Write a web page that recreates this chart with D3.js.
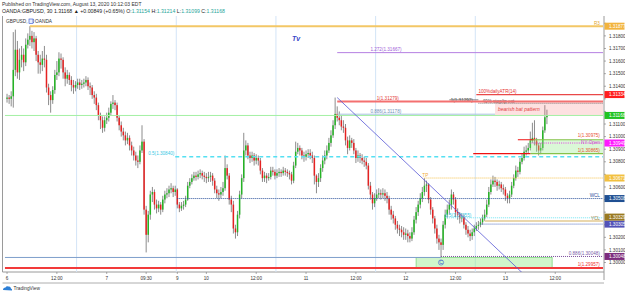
<!DOCTYPE html>
<html>
<head>
<meta charset="utf-8">
<script src="https://cdnjs.cloudflare.com/ajax/libs/d3/7.8.5/d3.min.js"></script>
<style>
  body { margin: 0; background: #fff; }
  svg { display: block; font-family: "Liberation Sans", Arial, sans-serif; }
</style>
</head>
<body>
<svg width="625" height="293"></svg>
<script>
// GBPUSD 30m candles, bar 0 = Aug 6 00:00 (NY time), last bar = Aug 13 10:00
var firstOpen = 1.3130;
var closes = [
  1.3131,1.3130,1.3132,1.3153,1.3169,1.3151,1.3161,1.3165,1.3159,1.3173,
  1.3177,1.3180,1.3175,1.3178,1.3165,1.3159,1.3157,1.3162,1.3161,1.3139,
  1.3133,1.3129,1.3137,1.3149,1.3151,1.3162,1.3161,1.3151,1.3146,1.3149,
  1.3145,1.3141,1.3139,1.3141,1.3143,1.3141,1.3142,1.3143,1.3145,1.3140,
  1.3139,1.3133,1.3131,1.3125,1.3117,1.3113,1.3107,1.3113,
  1.3115,1.3119,1.3126,1.3127,1.3125,1.3115,1.3109,1.3104,1.3101,1.3097,
  1.3099,1.3093,1.3089,1.3085,1.3081,1.3080,1.3089,1.3096,1.3042,1.3022,
  1.3038,1.3054,1.3056,1.3046,1.3043,1.3046,1.3042,1.3050,1.3054,1.3055,
  1.3058,1.3059,1.3056,1.3058,
  1.3046,1.3043,1.3045,1.3046,1.3050,1.3061,1.3064,1.3067,1.3069,1.3068,
  1.3070,1.3071,1.3069,1.3068,
  1.3067,1.3068,1.3069,1.3065,1.3058,1.3055,1.3054,1.3056,1.3059,1.3075,
  1.3069,1.3050,1.3046,1.3027,1.3024,1.3038,1.3054,1.3067,1.3089,1.3093,
  1.3085,1.3083,1.3085,1.3081,1.3083,1.3081,1.3073,1.3067,1.3069,1.3067,
  1.3068,1.3073,1.3072,1.3069,1.3071,1.3072,1.3071,1.3073,1.3072,1.3071,
  1.3070,1.3065,1.3077,1.3088,1.3091,1.3089,1.3085,1.3084,
  1.3086,1.3087,1.3085,1.3083,1.3069,1.3064,1.3067,1.3075,1.3081,1.3085,
  1.3089,1.3095,1.3101,1.3109,1.3118,1.3115,1.3113,1.3108,1.3107,1.3097,
  1.3091,1.3097,1.3095,1.3089,1.3083,1.3085,1.3083,1.3081,1.3080,1.3077,
  1.3061,1.3054,1.3047,1.3051,1.3054,1.3055,1.3054,1.3055,1.3053,1.3051,
  1.3042,1.3038,1.3035,1.3030,1.3027,1.3026,1.3024,1.3022,
  1.3023,1.3021,1.3019,1.3024,1.3034,1.3040,1.3046,1.3051,1.3056,1.3061,
  1.3062,1.3050,1.3042,1.3035,1.3027,1.3019,1.3016,1.3014,1.3030,1.3038,
  1.3042,1.3046,1.3054,1.3050,1.3040,1.3038,1.3035,1.3036,1.3030,1.3026,
  1.3023,1.3021,1.3024,1.3027,1.3029,1.3030,1.3032,1.3035,1.3038,1.3046,
  1.3056,1.3062,1.3065,1.3064,1.3061,1.3062,1.3059,1.3058,
  1.3053,1.3051,1.3054,1.3061,1.3067,1.3073,1.3072,1.3080,1.3083,1.3088,
  1.3089,1.3091,1.3097,1.3099,1.3097,1.3093,1.3089,1.3091,1.3105,1.31154,1.31168
];
var highs = [
  1.3134,1.3133,1.3136,1.3183,1.3185,1.3176,1.3170,1.3172,1.3170,1.3178,
  1.3182,1.31877,1.3184,1.3183,1.3180,1.3168,1.3165,1.3168,1.3172,1.3165,
  1.3142,1.3136,1.3140,1.3153,1.3160,1.3167,1.3166,1.3163,1.3155,1.3153,
  1.3151,1.3148,1.3145,1.3144,1.3146,1.3146,1.3145,1.3146,1.3148,1.3147,
  1.3143,1.3141,1.3136,1.3134,1.3127,1.3119,1.3116,1.3116,
  1.3119,1.3123,1.3128,1.3133,1.3129,1.3127,1.3117,1.3112,1.3107,1.3104,
  1.3103,1.3101,1.3096,1.3092,1.3088,1.3085,1.3093,1.3109,1.3098,1.3045,
  1.3041,1.3057,1.3060,1.3058,1.3050,1.3049,1.3048,1.3053,1.3057,1.3059,
  1.3061,1.3063,1.3061,1.3061,
  1.3059,1.3048,1.3048,1.3049,1.3053,1.3064,1.3067,1.3070,1.3072,1.3072,
  1.3073,1.3074,1.3073,1.3072,
  1.3071,1.3072,1.3072,1.3071,1.3067,1.3061,1.3058,1.3060,1.3064,1.3085,
  1.3078,1.3071,1.3053,1.3049,1.3030,1.3041,1.3057,1.3070,1.3103,1.3097,
  1.3095,1.3088,1.3088,1.3087,1.3086,1.3085,1.3083,1.3075,1.3072,1.3071,
  1.3071,1.3076,1.3076,1.3074,1.3074,1.3075,1.3074,1.3076,1.3075,1.3074,
  1.3073,1.3072,1.3080,1.3096,1.3095,1.3093,1.3091,1.3088,
  1.3089,1.3090,1.3090,1.3088,1.3085,1.3070,1.3071,1.3078,1.3085,1.3089,
  1.3093,1.3099,1.3105,1.3113,1.3131,1.3124,1.3120,1.3117,1.3113,1.3110,
  1.3100,1.3101,1.3099,1.3098,1.3091,1.3089,1.3087,1.3086,1.3084,1.3083,
  1.3079,1.3064,1.3056,1.3055,1.3058,1.3059,1.3058,1.3059,1.3058,1.3056,
  1.3053,1.3045,1.3041,1.3037,1.3033,1.3030,1.3029,1.3028,
  1.3027,1.3026,1.3024,1.3028,1.3037,1.3044,1.3049,1.3055,1.3060,1.3067,
  1.3065,1.3063,1.3052,1.3044,1.3037,1.3030,1.3022,1.3019,1.3033,1.3042,
  1.3046,1.3050,1.3058,1.3056,1.3052,1.3043,1.3040,1.3039,1.3038,1.3032,
  1.3029,1.3026,1.3027,1.3030,1.3032,1.3033,1.3035,1.3038,1.3042,1.3050,
  1.3060,1.3066,1.3069,1.3068,1.3066,1.3065,1.3064,1.3062,
  1.3060,1.3055,1.3057,1.3064,1.3070,1.3077,1.3076,1.3083,1.3087,1.3092,
  1.3093,1.3095,1.3104,1.3111,1.3113,1.3099,1.3095,1.3095,1.3108,1.3125,1.31214
];
var lows = [
  1.3127,1.3126,1.3124,1.3123,1.3148,1.3146,1.3145,1.3155,1.3152,1.3156,
  1.3170,1.3172,1.3170,1.3168,1.3160,1.3150,1.3150,1.3152,1.3155,1.3135,
  1.3125,1.3119,1.3126,1.3134,1.3145,1.3148,1.3154,1.3146,1.3140,1.3142,
  1.3141,1.3136,1.3134,1.3136,1.3138,1.3137,1.3138,1.3139,1.3140,1.3137,
  1.3133,1.3130,1.3126,1.3121,1.3113,1.3106,1.3103,1.3104,
  1.3110,1.3112,1.3117,1.3122,1.3121,1.3112,1.3105,1.3100,1.3097,1.3093,
  1.3094,1.3089,1.3085,1.3081,1.3077,1.3075,1.3078,1.3087,1.3038,1.3008,
  1.3016,1.3034,1.3048,1.3042,1.3039,1.3040,1.3038,1.3040,1.3047,1.3051,
  1.3052,1.3055,1.3052,1.3053,
  1.3043,1.3040,1.3041,1.3042,1.3044,1.3049,1.3059,1.3062,1.3065,1.3065,
  1.3066,1.3067,1.3066,1.3064,
  1.3063,1.3064,1.3064,1.3061,1.3055,1.3051,1.3049,1.3051,1.3053,1.3057,
  1.3066,1.3046,1.3040,1.3023,1.3019,1.3021,1.3035,1.3051,1.3064,1.3085,
  1.3082,1.3079,1.3080,1.3077,1.3078,1.3077,1.3070,1.3064,1.3064,1.3063,
  1.3065,1.3066,1.3069,1.3066,1.3067,1.3068,1.3068,1.3069,1.3069,1.3068,
  1.3066,1.3062,1.3063,1.3075,1.3086,1.3085,1.3082,1.3080,
  1.3081,1.3083,1.3082,1.3079,1.3062,1.3055,1.3060,1.3064,1.3072,1.3078,
  1.3082,1.3087,1.3092,1.3099,1.3106,1.3112,1.3109,1.3105,1.3103,1.3093,
  1.3086,1.3089,1.3091,1.3086,1.3079,1.3080,1.3079,1.3078,1.3076,1.3074,
  1.3058,1.3050,1.3042,1.3044,1.3049,1.3051,1.3050,1.3051,1.3049,1.3047,
  1.3038,1.3034,1.3031,1.3026,1.3023,1.3021,1.3020,1.3018,
  1.3018,1.3016,1.3016,1.3017,1.3022,1.3031,1.3037,1.3043,1.3048,1.3053,
  1.3056,1.3047,1.3038,1.3031,1.3023,1.3015,1.3010,1.3004,1.3010,1.3027,
  1.3035,1.3038,1.3042,1.3046,1.3036,1.3034,1.3031,1.3032,1.3027,1.3022,
  1.3020,1.3017,1.3018,1.3021,1.3025,1.3026,1.3028,1.3030,1.3033,1.3036,
  1.3044,1.3054,1.3060,1.3060,1.3057,1.3058,1.3056,1.3054,
  1.3049,1.3047,1.3047,1.3052,1.3059,1.3065,1.3068,1.3070,1.3078,1.3081,
  1.3085,1.3087,1.3089,1.3095,1.3093,1.3088,1.3085,1.3086,1.3089,1.3103,1.31099
];

// time axis (bar index -> label), session starts at 17:00 NY
var timeTickBars   = [0, 24, 48, 67, 82, 96, 120, 144, 168, 192, 216, 240, 264];
var timeTickLabels = ["6", "12:00", "7", "09:30", "9", "10", "12:00", "11", "12:00", "12", "12:00", "13", "12:00"];
var sessionBreaks  = [34, 82, 130, 178, 226];

// price axis
var priceTicks = [1.300, 1.301, 1.302, 1.303, 1.304, 1.305, 1.306, 1.307, 1.308, 1.309,
                  1.310, 1.311, 1.312, 1.313, 1.314, 1.315, 1.316, 1.317, 1.318, 1.319];

// drawn horizontal levels
var levelNames  = ["R3", "ext1272", "atr", "fibTop", "stopExt", "fib1", "fib0886", "last",
                   "nyTopRay", "nyLowRay", "nyOpen", "half", "tp", "wcl", "halfLow", "ycl", "ycl2",
                   "fib0886Low", "base", "fibLow"];
var levelPrices = [1.31877, 1.31667, 1.31334, 1.31292, 1.31265, 1.31279, 1.31178, 1.31168,
                   1.30975, 1.30865, 1.30949, 1.30840, 1.30671, 1.30508, 1.30355, 1.30329, 1.30305,
                   1.30048, 1.30040, 1.29957];
var levelFrom   = [11, 159, 226, 213, 227, 159, 159, -1, 246, 224.5, 252, 81, 201, 82, 211, 230, 228, 209, -1, -1];
var levelTo     = [287, 287, 287, 227, 287, 287, 235, 287, 253.5, 252, 287, 287, 287, 287, 287, 287, 287, 287, 209, 287];
var levelTexts  = ["R3", "1.272(1.31667)", "100%dailyATR(14)", "1(1.31292)", "40% stop/tp ext", "1(1.31279)",
                   "0.886(1.31178)", "", "1(1.30975)", "1(1.30865)", "NY Open", "0.5(1.30840)", "TP", "WCL",
                   "0.5(1.30355)", "YCL", "", "0.886(1.30048)", "", "1(1.29957)"];
var levelTextBars = [285.5, 175, 227, 219, 229, 178, 175, null, 285.5, 285.5, 285.5, 68, 200, 285.5,
                     211, 285.5, null, 285.5, null, 285.5];

// zones and the pattern leg
var batZone = {from: 235, to: 287, top: 1.31270, bottom: 1.31171, text: "bearish bat pattern"};
var nyZone  = {from: 252, to: 287, top: 1.30975, bottom: 1.30865};
var cZone   = {from: 197, to: 262.5, top: 1.30040, bottom: 1.29960, point: 209, text: "C"};
var legBars   = [159, 248];
var legPrices = [1.31310, 1.29920];

// price labels on the axis
var axisLabelPrices = [1.31877, 1.31334, 1.31168, 1.30949, 1.30671, 1.30508, 1.30329, 1.30305, 1.30048];

// ---- styles ----
var levelStyle = {
  R3:         {stroke: "#f3c766", width: 2,   text: "#e0a52e", anchor: "end",    dy: -1.5},
  ext1272:    {stroke: "#b57fe2", width: 1,   text: "#a060d8", anchor: "start",  dy: -1.5},
  atr:        {stroke: "#e94848", width: 1.2, text: "#e53030", anchor: "start",  dy: -1.6},
  fibTop:     {stroke: "#666",    width: 0.8, text: "#444",    anchor: "middle", dy: 1.8},
  stopExt:    {stroke: "#555",    width: 0.8, dash: "1,1", text: "#444", anchor: "start", dy: -0.6},
  fib1:       {stroke: "#f47070", width: 2,   text: "#e53a3a", anchor: "start",  dy: -1.6},
  fib0886:    {stroke: "#a9c3e2", width: 1,   text: "#6f8fb8", anchor: "start",  dy: -1.5},
  last:       {stroke: "#a4f0a4", width: 1},
  nyTopRay:   {stroke: "#ee1111", width: 1.2, text: "#e85030", anchor: "end",    dy: -2.6},
  nyLowRay:   {stroke: "#ee1111", width: 1.2, text: "#e85030", anchor: "end",    dy: -1.2},
  nyOpen:     {stroke: "#e23ae2", width: 1,   dash: "1,1.2", text: "#d055d0", anchor: "end", dy: 0.9},
  half:       {stroke: "#55e0f2", width: 1.5, dash: "4,3", text: "#38c8e4", anchor: "start", dy: -1.5},
  tp:         {stroke: "#f5c04a", width: 1,   dash: "1,1", text: "#f0a838", anchor: "start", dy: -1.3},
  wcl:        {stroke: "#2a4f9a", width: 1,   dash: "1,1", text: "#2a4f9a", anchor: "end", dy: -1.3},
  halfLow:    {stroke: "#6fe3f2", width: 1,   dash: "1,1", text: "#38c8e4", anchor: "start", dy: -1.3},
  ycl:        {stroke: "#ead7ad", width: 2,   text: "#a08040", anchor: "end",    dy: -1.5},
  ycl2:       {stroke: "#4f6cc2", width: 1,   dash: "1,1"},
  fib0886Low: {stroke: "#7a4a9a", width: 1,   dash: "1,1", text: "#7a5aa8", anchor: "end", dy: -1.3},
  base:       {stroke: "#7e9ecb", width: 1},
  fibLow:     {stroke: "#f23a3a", width: 2,   text: "#f03030", anchor: "end",    dy: -1.6}
};
var axisLabelColors = ["#f2b43e", "#ff1e1e", "#22c322", "#ff1aff", "#f2c040", "#1f4f92", "#9a7a22", "#5252b8", "#7d2d7d"];
var upColor = "#25b425", downColor = "#e52222", wickColor = "#6e6e6e";

// ---- chart ----
var svg = d3.select("svg");
var pane = {left: 2.5, right: 604, top: 16, bottom: 272};

var x = d3.scaleLinear().domain([-0.5, 287]).range([6, 603]);
var y = d3.scaleLinear().domain([1.300, 1.319]).range([262.5, 23.3]);

svg.append("defs").append("clipPath").attr("id", "clip")
  .append("rect")
    .attr("x", pane.left).attr("y", pane.top)
    .attr("width", pane.right - pane.left).attr("height", pane.bottom - pane.top);

// header
svg.append("text").attr("x", 2).attr("y", 5.5)
  .attr("font-size", 5).attr("fill", "#333")
  .text("Published on TradingView.com, August 13, 2020 10:12:03 EDT");

var head = svg.append("text").attr("x", 2).attr("y", 12.5).attr("font-size", 5.2).attr("fill", "#222");
head.append("tspan").text("OANDA:GBPUSD, 30  1.31168 \u25B2 +0.00849 (+0.65%) ");
[["O:", "1.31154"], ["H:", "1.31214"], ["L:", "1.31099"], ["C:", "1.31168"]].forEach(function (p) {
  head.append("tspan").attr("fill", "#222").text(p[0]);
  head.append("tspan").attr("fill", "#26a69a").text(p[1] + " ");
});

// pane frame
svg.append("line").attr("x1", pane.left).attr("x2", pane.left)
  .attr("y1", pane.top).attr("y2", pane.bottom).attr("stroke", "#9a9a9a").attr("stroke-width", 1);
svg.append("line").attr("x1", pane.left).attr("x2", pane.right)
  .attr("y1", pane.bottom).attr("y2", pane.bottom).attr("stroke", "#9a9a9a").attr("stroke-width", 1);
svg.append("line").attr("x1", pane.right).attr("x2", pane.right)
  .attr("y1", pane.top).attr("y2", pane.bottom + 8).attr("stroke", "#9a9a9a").attr("stroke-width", 1);

var g = svg.append("g").attr("clip-path", "url(#clip)");

// session breaks
g.selectAll("line.session")
  .data(sessionBreaks)
  .enter().append("line")
    .attr("class", "session")
    .attr("x1", function (d) { return x(d - 0.5); })
    .attr("x2", function (d) { return x(d - 0.5); })
    .attr("y1", pane.top).attr("y2", pane.bottom)
    .attr("stroke", "#d3e4f7").attr("stroke-width", 1);

// candles
var bars = closes.map(function (c, i) {
  return {i: i, o: i ? closes[i - 1] : firstOpen, h: highs[i], l: lows[i], c: c};
});

g.selectAll("line.wick")
  .data(bars)
  .enter().append("line")
    .attr("class", "wick")
    .attr("x1", function (d) { return x(d.i); })
    .attr("x2", function (d) { return x(d.i); })
    .attr("y1", function (d) { return y(d.h); })
    .attr("y2", function (d) { return y(d.l); })
    .attr("stroke", wickColor).attr("stroke-width", 0.8);

g.selectAll("rect.body")
  .data(bars)
  .enter().append("rect")
    .attr("class", "body")
    .attr("x", function (d) { return x(d.i) - 0.75; })
    .attr("width", 1.5)
    .attr("y", function (d) { return y(Math.max(d.o, d.c)); })
    .attr("height", function (d) { return Math.max(0.6, Math.abs(y(d.o) - y(d.c))); })
    .attr("fill", function (d) { return d.c >= d.o ? upColor : downColor; });

// zones
g.append("rect")
  .attr("x", x(batZone.from)).attr("width", x(batZone.to) - x(batZone.from))
  .attr("y", y(batZone.top)).attr("height", y(batZone.bottom) - y(batZone.top))
  .attr("fill", "rgba(244,120,120,0.22)");
g.append("rect")
  .attr("x", x(nyZone.from)).attr("width", x(nyZone.to) - x(nyZone.from))
  .attr("y", y(nyZone.top)).attr("height", y(nyZone.bottom) - y(nyZone.top))
  .attr("fill", "rgba(150,235,140,0.35)");
[nyZone.top, nyZone.bottom].forEach(function (p) {
  g.append("line")
    .attr("x1", x(nyZone.from)).attr("x2", x(nyZone.to))
    .attr("y1", y(p)).attr("y2", y(p))
    .attr("stroke", "#86c24a").attr("stroke-width", 1.2);
});
g.append("rect")
  .attr("x", x(cZone.from)).attr("width", x(cZone.to) - x(cZone.from))
  .attr("y", y(cZone.top)).attr("height", y(cZone.bottom) - y(cZone.top))
  .attr("fill", "rgba(150,235,140,0.45)")
  .attr("stroke", "#7fd67f").attr("stroke-width", 0.8);

// levels
levelNames.forEach(function (name, k) {
  var s = levelStyle[name];
  var yy = y(levelPrices[k]);
  g.append("line")
    .attr("x1", x(levelFrom[k])).attr("x2", x(levelTo[k]))
    .attr("y1", yy).attr("y2", yy)
    .attr("stroke", s.stroke).attr("stroke-width", s.width)
    .attr("stroke-dasharray", s.dash || null);
  if (levelTexts[k]) {
    g.append("text")
      .attr("x", x(levelTextBars[k])).attr("y", yy + s.dy)
      .attr("font-size", 4.6).attr("fill", s.text)
      .attr("text-anchor", s.anchor)
      .text(levelTexts[k]);
  }
});

// pattern leg
var legSlope = (y(legPrices[1]) - y(legPrices[0])) / (x(legBars[1]) - x(legBars[0]));
g.append("line")
  .attr("x1", x(legBars[0])).attr("y1", y(legPrices[0]))
  .attr("x2", x(legBars[1]) + 20).attr("y2", y(legPrices[1]) + 20 * legSlope)
  .attr("stroke", "#5858d6").attr("stroke-width", 0.8);

// zone texts
g.append("text")
  .attr("x", x(batZone.from) + 3).attr("y", (y(batZone.top) + y(batZone.bottom)) / 2 + 2)
  .attr("font-size", 5).attr("font-style", "italic").attr("fill", "#e23c3c")
  .text(batZone.text);
var cx = x(cZone.point), cy = (y(cZone.top) + y(cZone.bottom)) / 2;
g.append("circle").attr("cx", cx).attr("cy", cy).attr("r", 2.6)
  .attr("fill", "none").attr("stroke", "#3a5fcf").attr("stroke-width", 0.6);
g.append("text").attr("x", cx).attr("y", cy + 1.8)
  .attr("font-size", 5).attr("text-anchor", "middle").attr("fill", "#3a5fcf")
  .text(cZone.text);

// symbol caption and note
svg.append("text").attr("x", 6).attr("y", 23).attr("font-size", 4.8).attr("fill", "#333")
  .text("GBPUSD, 30");
svg.append("rect").attr("x", 29).attr("y", 19).attr("width", 4).attr("height", 4.5)
  .attr("fill", "#e8eefc").attr("stroke", "#2d4fd0").attr("stroke-width", 0.6);
svg.append("text").attr("x", 35).attr("y", 23).attr("font-size", 4.8).attr("fill", "#333")
  .text("OANDA");
svg.append("text").attr("x", 292).attr("y", 41).attr("font-size", 7)
  .attr("font-style", "italic").attr("font-weight", "bold").attr("fill", "#3946c8")
  .text("Tv");

// colored price labels, pushed apart when they overlap
var tags = axisLabelPrices.map(function (p, k) { return {p: p, c: axisLabelColors[k], y: y(p)}; });
tags.sort(function (a, b) { return b.y - a.y; });
for (var k = 1; k < tags.length; k++) {
  if (tags[k - 1].y - tags[k].y < 7) tags[k].y = tags[k - 1].y - 7;
}

// price axis (tick labels hidden under the colored labels)
var freeTicks = priceTicks.filter(function (d) {
  return tags.every(function (t) { return Math.abs(t.y - y(d)) > 6; });
});
var yAxis = svg.append("g");
yAxis.selectAll("text")
  .data(freeTicks)
  .enter().append("text")
    .attr("x", 609).attr("y", function (d) { return y(d) + 1.7; })
    .attr("font-size", 4.6).attr("fill", "#333")
    .text(function (d) { return d3.format(".5f")(d); });
yAxis.selectAll("line")
  .data(priceTicks)
  .enter().append("line")
    .attr("x1", pane.right).attr("x2", pane.right + 2)
    .attr("y1", function (d) { return y(d); }).attr("y2", function (d) { return y(d); })
    .attr("stroke", "#777").attr("stroke-width", 0.6);

var tagG = svg.append("g").selectAll("g").data(tags).enter().append("g");
tagG.append("rect")
  .attr("x", pane.right + 0.5).attr("y", function (d) { return d.y - 3.5; })
  .attr("width", 20).attr("height", 7).attr("fill", function (d) { return d.c; });
tagG.append("text")
  .attr("x", 609).attr("y", function (d) { return d.y + 1.7; })
  .attr("font-size", 4.6).attr("fill", "#fff")
  .text(function (d) { return d3.format(".5f")(d.p); });

// time axis
var xAxis = svg.append("g");
xAxis.selectAll("line")
  .data(timeTickBars)
  .enter().append("line")
    .attr("x1", function (d) { return x(d); }).attr("x2", function (d) { return x(d); })
    .attr("y1", pane.bottom).attr("y2", pane.bottom + 2)
    .attr("stroke", "#777").attr("stroke-width", 0.6);
xAxis.selectAll("text")
  .data(timeTickBars)
  .enter().append("text")
    .attr("x", function (d) { return x(d); }).attr("y", 279.5)
    .attr("text-anchor", "middle").attr("font-size", 4.6).attr("fill", "#333")
    .text(function (d, i) { return timeTickLabels[i]; });
svg.append("line").attr("x1", pane.left).attr("x2", pane.right)
  .attr("y1", 283).attr("y2", 283).attr("stroke", "#9a9a9a").attr("stroke-width", 0.8);

// logo
var logo = svg.append("g").attr("transform", "translate(3,286)");
logo.append("path")
  .attr("d", "M0,4 Q0,1.5 2.5,1.5 Q3.5,-0.5 5.5,0.5 Q7.5,0 8,2.5 Q9.5,3 9,4.5 Z")
  .attr("fill", "#2c7fd6");
logo.append("text").attr("x", 10.5).attr("y", 4.4).attr("font-size", 4.8).attr("fill", "#333")
  .text("TradingView");
</script>
</body>
</html>
